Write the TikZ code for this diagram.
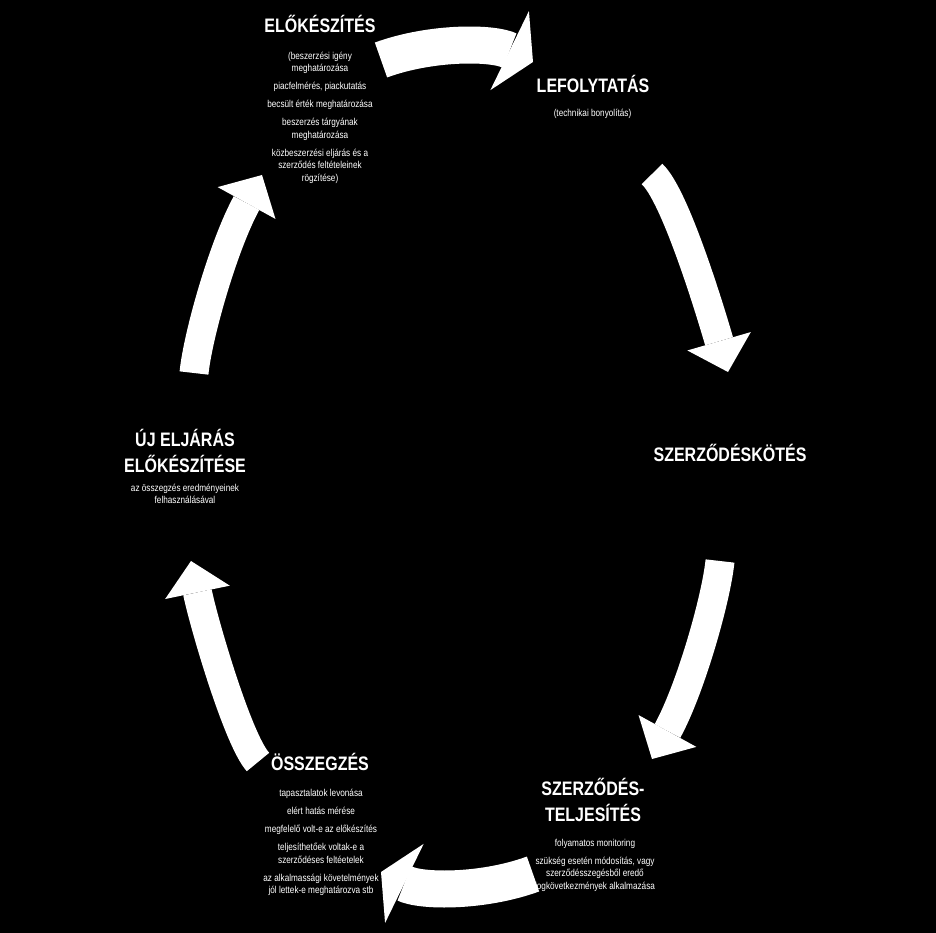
\documentclass[tikz,border=0pt]{standalone}
\usepackage{fontspec}
\setmainfont{Liberation Sans}[FakeStretch=0.82]
\usepackage{tikz}
\usetikzlibrary{arrows.meta,positioning}
\newcommand\stagefont{\fontsize{19.5}{25.5}\selectfont\bfseries}
\newcommand\notefont{\fontsize{10}{12.5}\selectfont}
\tikzset{
  stage/.style ={text=white,font=\stagefont,align=center,inner sep=0pt},
  note/.style  ={text=white,font=\notefont,align=center,inner sep=0pt,
                 anchor=north},
  hflow/.style ={draw=white,line width=37pt,
                 -{Triangle[length=26pt,width=88pt,line width=0pt]}},
  vflow/.style ={draw=white,line width=29pt,
                 -{Triangle[length=32pt,width=66pt,line width=0pt]}}
}

\begin{document}
\begin{tikzpicture}[x=1pt,y=-1pt]
    \path[use as bounding box,fill=black] (0,0) rectangle (936,933);
    % --- the six arrows of the cycle, clockwise from the top ---
    \coordinate (p1) at (381,60);   \coordinate (q1) at (533,62);
    \coordinate (p2) at (652,174);  \coordinate (q2) at (728,372);
    \coordinate (p3) at (720,561);  \coordinate (q3) at (652,759);
    \coordinate (p4) at (533,874);  \coordinate (q4) at (381,872);
    \coordinate (p5) at (258,762);  \coordinate (q5) at (191,561);
    \coordinate (p6) at (194,373);  \coordinate (q6) at (262,175);
    \draw[hflow] (p1) .. controls (430,42) and (492,42) .. (q1);
    \draw[vflow] (p2) .. controls (675,195) and (710,310) .. (q2);
    \draw[vflow] (p3) .. controls (716,600) and (690,690) .. (q3);
    \draw[hflow] (p4) .. controls (484,892) and (422,892) .. (q4);
    \draw[vflow] (p5) .. controls (238,740) and (204,624) .. (q5);
    \draw[vflow] (p6) .. controls (198,334) and (224,244) .. (q6);
    % --- stages ---
    \node[stage,anchor=base] (prep) at (320,33) {ELŐKÉSZÍTÉS};
    \node[note] (prepn) at (320,51.7)
      {(beszerzési igény\\meghatározása\\[5.5pt]
       piacfelmérés, piackutatás\\[5.5pt]
       becsült érték meghatározása\\[5.5pt]
       beszerzés tárgyának\\meghatározása\\[5.5pt]
       közbeszerzési eljárás és a\\szerződés feltételeinek\\rögzítése)};
    \node[stage,anchor=base] (exec) at (593,92.7) {LEFOLYTATÁS};
    \node[note] (execn) at (592.5,109.4) {(technikai bonyolítás)};
    \node[stage,anchor=base] (sign) at (730,461.7) {SZERZŐDÉSKÖTÉS};
    \node[stage,anchor=north] (perf) at (593,778.3) {SZERZŐDÉS-\\TELJESÍTÉS};
    \node[note] (perfn) at (595,838.7)
      {folyamatos monitoring\\[5.5pt]
       szükség esetén módosítás, vagy\\szerződésszegésből eredő\\
       jogkövetkezmények alkalmazása};
    \node[stage,anchor=base] (eval) at (320,770) {ÖSSZEGZÉS};
    \node[note] (evaln) at (321,789.4)
      {tapasztalatok levonása\\[5.5pt]
       elért hatás mérése\\[5.5pt]
       megfelelő volt-e az előkészítés\\[5.5pt]
       teljesíthetőek voltak-e a\\szerződéses feltéetelek\\[5.5pt]
       az alkalmassági követelmények\\jól lettek-e meghatározva stb};
    \node[stage,anchor=north] (next) at (185,429.3) {ÚJ ELJÁRÁS\\ELŐKÉSZÍTÉSE};
    \node[note] (nextn) at (185,483.7)
      {az összegzés eredményeinek\\felhasználásával};
\end{tikzpicture}
\end{document}
